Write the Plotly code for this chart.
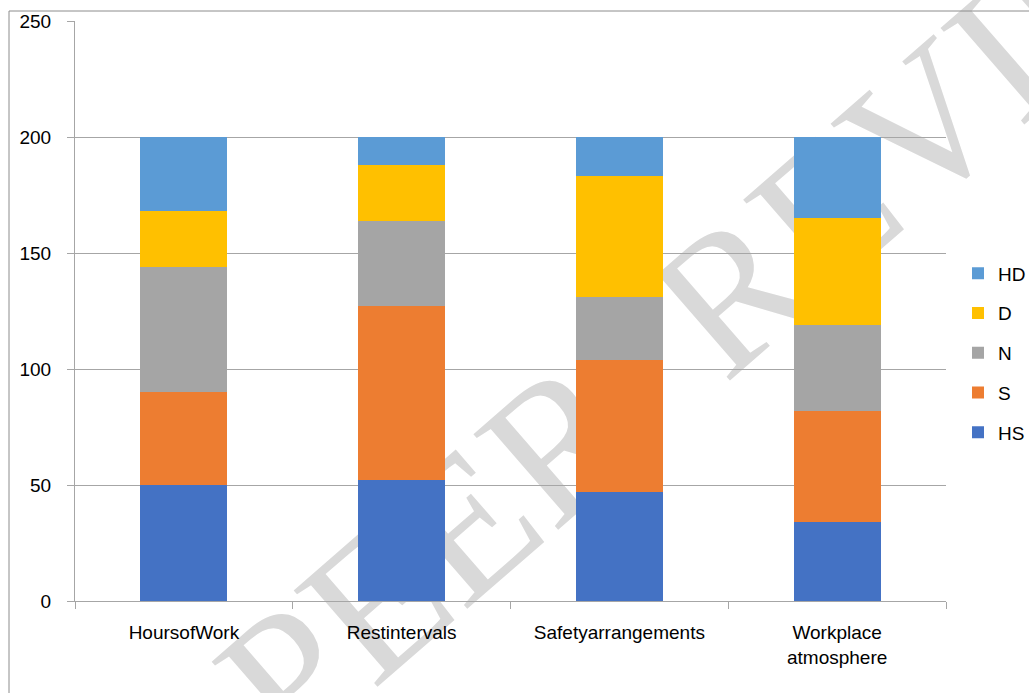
import plotly.graph_objects as go

categories = ["HoursofWork", "Restintervals", "Safetyarrangements", "Workplace<br>atmosphere"]
HS = [50, 52, 47, 34]
S = [40, 75, 57, 48]
N = [54, 37, 27, 37]
D = [24, 24, 52, 46]
HD = [32, 12, 17, 35]

series = [("HS", HS, "#4472C4", 5), ("S", S, "#ED7D31", 4), ("N", N, "#A5A5A5", 3),
          ("D", D, "#FFC000", 2), ("HD", HD, "#5B9BD5", 1)]

watermark = "PEER  REVIEW"

FONT = "Liberation Sans"
W, H = 1029, 693
L, R, T, B = 75, 83, 21, 92
pw, ph = W - L - R, H - T - B

def px(x):
    return (x - L) / pw

def py(y):
    return (H - B - y) / ph

fig = go.Figure()
for name, vals, col, rank in series:
    fig.add_trace(go.Bar(x=categories, y=vals, name=name, marker_color=col,
                         marker_line_width=0, legendgroup=name, legendrank=rank))

fig.update_layout(
    width=W, height=H,
    margin=dict(l=L, r=R, t=T, b=B, autoexpand=False),
    barmode="stack", bargap=0.6,
    paper_bgcolor="white", plot_bgcolor="rgba(0,0,0,0)",
    font=dict(family=FONT, size=19, color="#000000"),
    legend=dict(x=px(958), xanchor="left", y=py(353), yanchor="middle",
                traceorder="grouped", tracegroupgap=12,
                font=dict(family=FONT, size=19), bgcolor="rgba(0,0,0,0)"),
    xaxis=dict(showline=True, linecolor="#A6A6A6", linewidth=1,
               ticks="outside", tickson="boundaries", ticklen=7, tickcolor="#A6A6A6",
               showgrid=False, ticklabelstandoff=14, tickfont=dict(family=FONT, size=19)),
    yaxis=dict(range=[0, 250], dtick=50, showline=True, linecolor="#A6A6A6",
               ticks="outside", ticklen=7, tickcolor="#A6A6A6",
               showgrid=True, gridcolor="#A6A6A6", gridwidth=1, zeroline=False,
               ticklabelstandoff=12, tickfont=dict(family=FONT, size=19)),
    shapes=[
        dict(type="rect", xref="paper", yref="paper", x0=px(687), x1=px(787),
             y0=py(309), y1=py(209), line=dict(width=0), fillcolor="rgba(0,0,0,0)",
             layer="below",
             label=dict(text=watermark, textangle=-41, textposition="middle center",
                        font=dict(family="Liberation Serif", size=195, color="#D9D9D9"))),
        dict(type="rect", xref="paper", yref="paper", x0=px(9), x1=px(1200),
             y0=py(900), y1=py(11), line=dict(color="#8C8C8C", width=1),
             fillcolor="rgba(0,0,0,0)", layer="above"),
    ],
)

fig.write_html("out.html", config={"displayModeBar": False},
               post_script="document.body.style.margin='0';")
